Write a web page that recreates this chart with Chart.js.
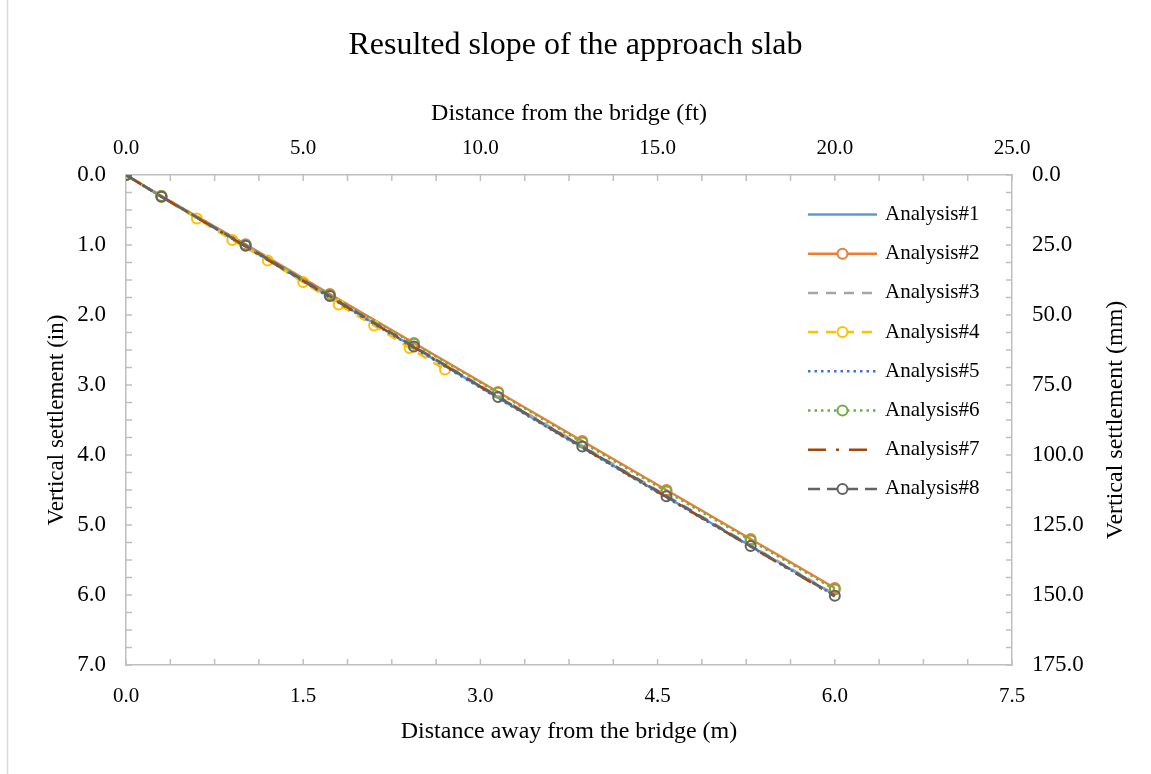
<!DOCTYPE html>
<html>
<head>
<meta charset="utf-8">
<script src="https://cdn.jsdelivr.net/npm/chart.js@4.4.1/dist/chart.umd.min.js"></script>
<style>
html, body { margin: 0; padding: 0; background: #fff; }
#wrap { position: relative; width: 1151px; height: 774px; }
</style>
</head>
<body>
<div id="wrap"><canvas id="slopeChart" width="1151" height="774"></canvas></div>
<script>
// Distance from the bridge (ft) and vertical settlement (in)
const distFt = [0, 1, 3.375, 5.75, 8.125, 10.5, 12.875, 15.25, 17.625, 20];
const distFtFine = [0, 1, 2, 3, 4, 5, 6, 7, 8, 9];

const analysis1 = [0, 0.31, 1.02, 1.74, 2.46, 3.18, 3.89, 4.60, 5.30, 6.00];
const analysis2 = [0, 0.30, 0.99, 1.70, 2.40, 3.10, 3.80, 4.50, 5.20, 5.90];
const analysis3 = [0, 0.31, 1.01, 1.73, 2.45, 3.16, 3.87, 4.58, 5.29, 5.99];
const analysis4 = [0, 0.31, 0.62, 0.93, 1.22, 1.53, 1.85, 2.15, 2.47, 2.78];
const analysis5 = [0, 0.31, 1.02, 1.75, 2.47, 3.19, 3.90, 4.61, 5.31, 6.01];
const analysis6 = [0, 0.30, 1.00, 1.71, 2.41, 3.11, 3.82, 4.52, 5.22, 5.92];
const analysis7 = [0, 0.31, 1.02, 1.74, 2.46, 3.17, 3.89, 4.60, 5.31, 6.02];
const analysis8 = [0, 0.31, 1.01, 1.73, 2.45, 3.17, 3.88, 4.59, 5.30, 6.01];

const seriesNames = ['Analysis#1', 'Analysis#2', 'Analysis#3', 'Analysis#4',
                     'Analysis#5', 'Analysis#6', 'Analysis#7', 'Analysis#8'];

// axis ranges / tick steps
const ftTicks = { min: 0, max: 25, step: 5, minor: 1.25 };
const mTicks = { min: 0, max: 7.5, step: 1.5, minor: 0.375 };
const inTicks = { min: 0, max: 7, step: 1, minor: 0.25 };
const mmTicks = { min: 0, max: 175, step: 25, minor: 6.25 };

const FONT = "'Liberation Serif', 'Times New Roman', serif";
Chart.defaults.font.family = FONT;
Chart.defaults.color = '#000';

function pts(xs, ys) {
    return ys.map((y, i) => ({ x: xs[i], y: y }));
}

function line(i, xs, ys, color, dash, marker) {
    return {
        label: seriesNames[i],
        data: pts(xs, ys),
        xAxisID: 'x2',
        yAxisID: 'y',
        borderColor: color,
        borderWidth: 2.5,
        borderDash: dash,
        pointRadius: marker ? 5 : 0,
        pointBorderWidth: 2,
        pointBorderColor: color,
        pointBackgroundColor: 'rgba(0,0,0,0)',
        tension: 0,
        fill: false,
        order: 8 - i  // later series on top, like the original
    };
}

const datasets = [
    line(0, distFt, analysis1, '#5B9BD5', [], false),
    line(1, distFt, analysis2, '#ED7D31', [], true),
    line(2, distFt, analysis3, '#A5A5A5', [10, 8], false),
    line(3, distFtFine, analysis4, '#FFC000', [10, 8], true),
    line(4, distFt, analysis5, '#4472C4', [2.5, 4], false),
    line(5, distFt, analysis6, '#70AD47', [2.5, 4], true),
    line(6, distFt, analysis7, '#9E480E', [18, 10, 3, 10], false),
    line(7, distFt, analysis8, '#636363', [12, 7], true)
];

const tickFmt = v => Number(v).toFixed(1);
const AXIS_GRAY = '#BFBFBF';

function axis(t, position, fontSize, pad, extra) {
    return Object.assign({
        type: 'linear',
        position: position,
        min: t.min,
        max: t.max,
        grid: { display: false, drawTicks: false },
        border: { display: true, color: AXIS_GRAY, width: 1.5 },
        ticks: {
            stepSize: t.step,
            autoSkip: false,
            maxRotation: 0,
            padding: pad,
            font: { size: fontSize },
            color: '#000',
            callback: tickFmt
        }
    }, extra);
}

const scaleTicks = { x: mTicks, x2: ftTicks, y: inTicks, y2: mmTicks };

// inward major + minor tick marks
const tickMarks = {
    id: 'tickMarks',
    beforeDatasetsDraw(chart) {
        const ctx = chart.ctx;
        ctx.save();
        ctx.strokeStyle = AXIS_GRAY;
        ctx.lineWidth = 1.5;
        Object.keys(scaleTicks).forEach(id => {
            const s = chart.scales[id];
            const t = scaleTicks[id];
            const n = Math.round((t.max - t.min) / t.minor);
            for (let k = 0; k <= n; k++) {
                const p = s.getPixelForValue(t.min + k * t.minor);
                ctx.beginPath();
                if (id === 'x') { ctx.moveTo(p, s.top); ctx.lineTo(p, s.top - 6); }
                if (id === 'x2') { ctx.moveTo(p, s.bottom); ctx.lineTo(p, s.bottom + 6); }
                if (id === 'y') { ctx.moveTo(s.right, p); ctx.lineTo(s.right + 6, p); }
                if (id === 'y2') { ctx.moveTo(s.left, p); ctx.lineTo(s.left - 6, p); }
                ctx.stroke();
            }
        });
        ctx.restore();
    }
};

// frame line, right axis title (reads bottom-to-top) and the legend
const extras = {
    id: 'extras',
    beforeDraw(chart) {
        const ctx = chart.ctx;
        ctx.save();
        ctx.fillStyle = '#fff';
        ctx.fillRect(0, 0, chart.width, chart.height);
        ctx.strokeStyle = '#D9D9D9';
        ctx.lineWidth = 1.5;
        ctx.beginPath();
        ctx.moveTo(7.5, 0);
        ctx.lineTo(7.5, chart.height);
        ctx.stroke();
        ctx.restore();
    },
    afterDraw(chart) {
        const ctx = chart.ctx;
        const area = chart.chartArea;
        ctx.save();
        ctx.font = '24px ' + FONT;
        ctx.fillStyle = '#000';
        ctx.textAlign = 'center';
        ctx.textBaseline = 'middle';
        ctx.translate(1116, (area.top + area.bottom) / 2);
        ctx.rotate(-Math.PI / 2);
        ctx.fillText('Vertical settlement (mm)', 0, 0);
        ctx.restore();

        ctx.save();
        const x0 = area.right - 204;
        const x1 = area.right - 135;
        const xm = (x0 + x1) / 2;
        chart.data.datasets.forEach((ds, i) => {
            const yy = area.top + 39.5 + i * 39.2;
            ctx.strokeStyle = ds.borderColor;
            ctx.lineWidth = ds.borderWidth;
            ctx.setLineDash(ds.borderDash);
            ctx.beginPath();
            ctx.moveTo(x0, yy);
            ctx.lineTo(x1, yy);
            ctx.stroke();
            ctx.setLineDash([]);
            if (ds.pointRadius > 0) {
                ctx.beginPath();
                ctx.arc(xm, yy, 5, 0, Math.PI * 2);
                ctx.fillStyle = '#fff';
                ctx.fill();
                ctx.lineWidth = 2;
                ctx.stroke();
            }
            ctx.fillStyle = '#000';
            ctx.font = '21px ' + FONT;
            ctx.textAlign = 'left';
            ctx.textBaseline = 'middle';
            ctx.fillText(ds.label, x1 + 8, yy);
        });
        ctx.restore();
    }
};

new Chart(document.getElementById('slopeChart').getContext('2d'), {
    type: 'line',
    data: { datasets: datasets },
    options: {
        responsive: false,
        animation: false,
        layout: { padding: 0 },
        plugins: {
            legend: { display: false },
            tooltip: { enabled: false },
            title: {
                display: true,
                text: 'Resulted slope of the approach slab',
                font: { size: 32, weight: 'normal' },
                color: '#000',
                padding: { top: 26, bottom: 0 }
            }
        },
        scales: {
            x2: axis(ftTicks, 'top', 21, 14, {
                title: { display: true, text: 'Distance from the bridge (ft)', font: { size: 24 }, color: '#000', padding: { top: 35, bottom: 0 } },
                afterFit: s => { s.height = 110.6; }
            }),
            x: axis(mTicks, 'bottom', 21, 19, {
                title: { display: true, text: 'Distance away from the bridge (m)', font: { size: 24 }, color: '#000', padding: { top: 0, bottom: 28 } },
                afterFit: s => { s.height = 109; }
            }),
            y: axis(inTicks, 'left', 23, 20, {
                reverse: true,
                title: { display: true, text: 'Vertical settlement (in)', font: { size: 23 }, color: '#000', padding: { top: 43, bottom: 0 } },
                afterFit: s => { s.width = 126; }
            }),
            y2: axis(mmTicks, 'right', 23, 20, {
                reverse: true,
                afterFit: s => { s.width = 139; }
            })
        }
    },
    plugins: [tickMarks, extras]
});
</script>
</body>
</html>
